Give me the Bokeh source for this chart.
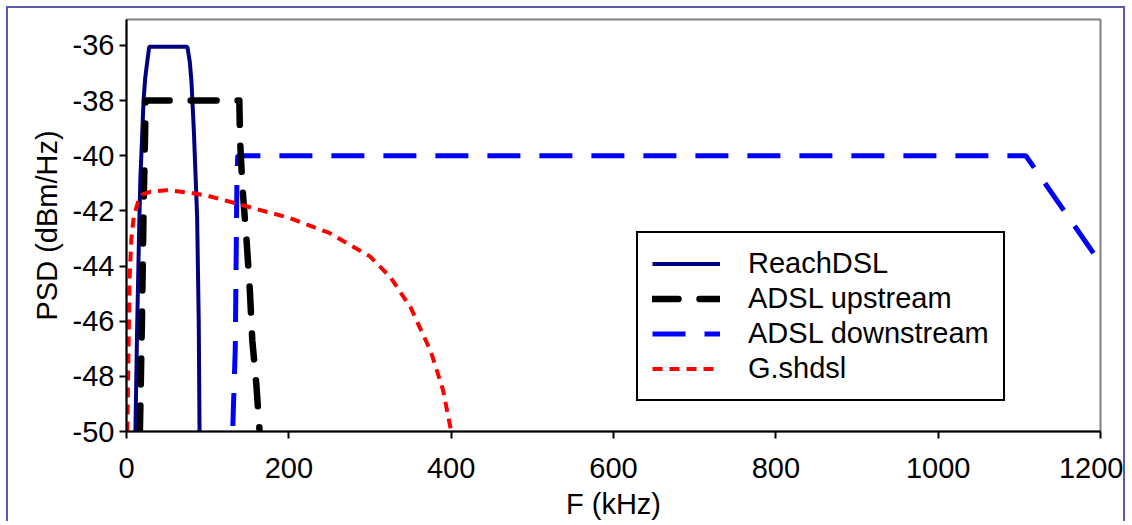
from bokeh.plotting import figure
from bokeh.models import Range1d, FixedTicker, Legend, LegendItem
from bokeh.embed import file_html
from bokeh.resources import INLINE

# ---- data ----
reach_f = [11, 13, 15.5, 17, 19.5, 21, 23, 25.5, 28, 75, 78, 80, 83, 87, 89, 90]
reach_psd = [-50, -46.4, -42.8, -40.9, -39.1, -38, -37.2, -36.6, -36.05, -36.05,
             -36.6, -37.3, -39.1, -42.2, -46, -50]

adsl_up_f = [16.5, 19, 21, 23, 23.5, 139, 140, 143, 148, 152, 155, 160, 164]
adsl_up_psd = [-50, -46, -42, -39, -38, -38, -39.5, -41.2, -43.1, -44.9, -46.7, -48.3, -50]

adsl_down_f = [131, 134, 135, 136, 137, 1108, 1200]
adsl_down_psd = [-49.8, -47, -44, -41, -40, -40, -43.9]

shdsl_f = [1, 2.5, 3.7, 6, 9, 14, 20, 30, 50, 80, 100, 150, 200, 250, 300, 325,
           350, 375, 390, 400]
shdsl_psd = [-50, -47, -44.5, -43, -42.2, -41.7, -41.4, -41.3, -41.25, -41.35,
             -41.45, -41.85, -42.25, -42.8, -43.65, -44.4, -45.5, -47.1, -48.5, -50]

x_ticks = [0, 200, 400, 600, 800, 1000, 1200]
y_ticks = [-50, -48, -46, -44, -42, -40, -38, -36]

FONT = "Liberation Sans"
FS = "29px"

p = figure(width=1119, height=515, output_backend="svg", toolbar_location=None,
           x_range=Range1d(0, 1200), y_range=Range1d(-50, -35.06),
           min_border_left=118, min_border_top=11, min_border_right=27,
           min_border_bottom=92)
p.styles = {"margin-left": "6px", "margin-top": "6px",
            "border-top": "2px solid #5a5aaa", "border-left": "2px solid #5a5aaa",
            "border-right": "2px solid #5a5aaa"}

p.xgrid.visible = False
p.ygrid.visible = False
p.outline_line_color = "#808080"
p.outline_line_width = 2
p.outline_line_alpha = 1

r_reach = p.line(reach_f, reach_psd, line_color="#000080", line_width=4)
r_down = p.line(adsl_down_f, adsl_down_psd, line_color="#0000ff", line_width=5,
                line_dash="33 19")
r_up = p.line(adsl_up_f, adsl_up_psd, line_color="black", line_width=6.5,
              line_dash="26 21", line_cap="round", line_join="round")
r_shdsl = p.line(shdsl_f, shdsl_psd, line_color="#ff0000", line_width=4,
                 line_dash="10 7")

p.xaxis.ticker = FixedTicker(ticks=x_ticks)
p.yaxis.ticker = FixedTicker(ticks=y_ticks)
p.yaxis.major_label_overrides = {t: str(t) for t in y_ticks}
for ax in (p.xaxis[0], p.yaxis[0]):
    ax.major_label_text_font = FONT
    ax.major_label_text_font_size = FS
    ax.major_label_text_color = "black"
    ax.axis_label_text_font = FONT
    ax.axis_label_text_font_size = FS
    ax.axis_label_text_font_style = "normal"
    ax.axis_label_text_color = "black"
    ax.minor_tick_line_color = None
    ax.major_tick_in = 0
    ax.major_tick_out = 7
    ax.major_tick_line_width = 2
    ax.major_tick_line_color = "black"
    ax.axis_line_width = 2
    ax.axis_line_color = "black"

p.xaxis.axis_label = "F (kHz)"
p.yaxis.axis_label = "PSD (dBm/Hz)"
p.xaxis.major_label_standoff = 19
p.yaxis.major_label_standoff = 5
p.xaxis.axis_label_standoff = 7
p.yaxis.axis_label_standoff = 7

legend = Legend(items=[
    LegendItem(label="ReachDSL", renderers=[r_reach]),
    LegendItem(label="ADSL upstream", renderers=[r_up]),
    LegendItem(label="ADSL downstream", renderers=[r_down]),
    LegendItem(label="G.shdsl", renderers=[r_shdsl]),
], location=(510, 30))
legend.label_text_font = FONT
legend.label_text_font_size = FS
legend.label_text_color = "black"
legend.glyph_width = 68
legend.glyph_height = 33
legend.label_height = 33
legend.label_width = 241
legend.label_standoff = 28
legend.spacing = 2
legend.padding = 14
legend.margin = 0
legend.border_line_color = "black"
legend.border_line_width = 2
legend.border_line_alpha = 1
legend.background_fill_color = "white"
legend.background_fill_alpha = 1
p.add_layout(legend)

open("out.html", "w").write(file_html(p, INLINE))
